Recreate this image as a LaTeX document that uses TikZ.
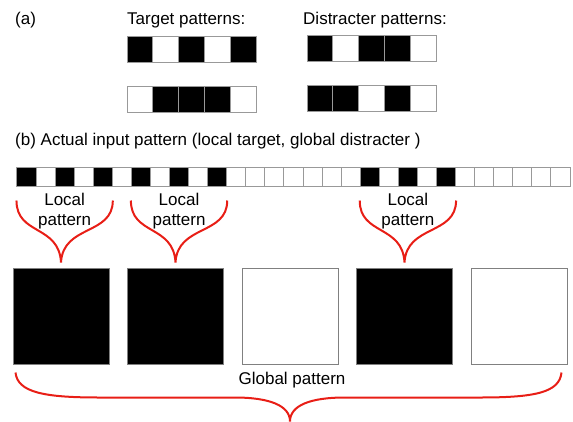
\documentclass[tikz,border=0pt]{standalone}
\usepackage{fontspec}
\setmainfont{Liberation Sans}
\definecolor{bracered}{RGB}{232,30,22}

\begin{document}
\begin{tikzpicture}[x=1pt,y=-1pt,
  lbl/.style={font=\fontsize{17}{20}\selectfont,inner sep=0pt},
  tcell/.style={draw=gray!80,line width=1pt,inner sep=0pt,minimum width=25.8pt,minimum height=26pt},
  cell/.style={draw=gray!80,line width=1pt,inner sep=0pt,minimum width=19.07pt,minimum height=19pt},
  big/.style={draw=gray,line width=1pt,inner sep=0pt,minimum size=96pt},
  brace/.style={draw=bracered,line width=2pt}]
\useasboundingbox (0,0) rectangle (573,421);

% (a)
\node[lbl,anchor=base west] (pa) at (15,24) {(a)};
\node[lbl,anchor=base west] (tgt) at (127,24) {Target patterns:};
\node[lbl,anchor=base west] (dis) at (303,24) {Distracter patterns:};

\foreach \c [count=\i] in {black,white,black,white,black}
  \node[tcell,fill=\c] (ta\i) at (114.1+25.8*\i,49) {};
\foreach \c [count=\i] in {white,black,black,black,white}
  \node[tcell,fill=\c] (tb\i) at (114.1+25.8*\i,99.5) {};
\foreach \c [count=\i] in {black,white,black,black,white}
  \node[tcell,fill=\c] (da\i) at (294.1+25.8*\i,48.5) {};
\foreach \c [count=\i] in {black,black,white,black,white}
  \node[tcell,fill=\c] (db\i) at (294.1+25.8*\i,98.5) {};

% (b)
\node[lbl,anchor=base west] (pb) at (15,145)
  {(b) Actual input pattern (local target, global distracter )};

\foreach \c [count=\i from 0] in {black,white,black,white,black,white,black,white,black,white,black,
    white,white,white,white,white,white,white,
    black,white,black,white,black,
    white,white,white,white,white,white}
  \node[cell,fill=\c] (c\i) at (26.5+19.07*\i,176.5) {};

\foreach \c [count=\i] in {black,black,white,black,white}
  \node[big,fill=\c] (g\i) at (-53.5+114.5*\i,316) {};

% local braces
\foreach \a/\b/\g [evaluate=\a as \m using int(\a+2)] in {0/4/1,6/10/2,18/22/4} {
  \coordinate (la\g) at ([yshift=-14pt]c\a.south west);
  \coordinate (lb\g) at ([yshift=-14pt]c\b.south east);
  \coordinate (lt\g) at ([yshift=5pt]g\g.north);
  \draw[brace] (la\g) .. controls +(0,35) and +(-2,-38) .. (lt\g)
    .. controls +(2,-38) and +(0,35) .. (lb\g);
  \node[lbl,align=center] (loc\g) at ([yshift=-25pt]c\m.south) {Local\\pattern};
}

% global brace
\coordinate (gl) at ([shift={(3pt,-8pt)}]g1.south west);
\coordinate (gr) at ([shift={(-6pt,-8pt)}]g5.south east);
\coordinate (gtip) at ([yshift=-57pt]g3.south);
\draw[brace] (gl) .. controls +(2,20) and +(-55,0) .. ++(84,25) -- ++(135,0)
  .. controls +(35,0) and +(0,-16) .. (gtip)
  .. controls +(0,-16) and +(-35,0) .. ++(55,-24) -- ++(135,0)
  .. controls +(55,0) and +(-2,20) .. (gr);
\node[lbl] (glob) at (292,380) {Global pattern};
\end{tikzpicture}
\end{document}
